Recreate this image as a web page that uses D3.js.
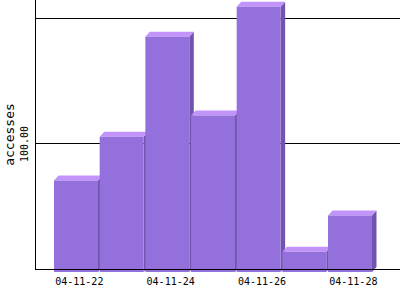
<!DOCTYPE html>
<html>
<head>
<meta charset="utf-8">
<script src="https://cdn.jsdelivr.net/npm/d3@7"></script>
<style>
  html, body { margin: 0; padding: 0; background: #fff; }
  svg { display: block; }
  text { font-family: "DejaVu Sans Mono", monospace; fill: #000; }
</style>
</head>
<body>
<svg id="chart" width="400" height="300"></svg>
<script>
// data
const days = ["04-11-22", "04-11-23", "04-11-24", "04-11-25", "04-11-26", "04-11-27", "04-11-28"];
const accesses = [74, 109, 189, 126, 213, 17, 46];
const gridValues = [100, 200];
const yTickLabels = [{ v: 100, label: "100.00" }];
const xTickLabels = ["04-11-22", "04-11-24", "04-11-26", "04-11-28"];

const svg = d3.select("#chart");

// plot frame
const plotLeft = 35, plotRight = 400, plotTop = 18, plotBase = 268;
const dx = 4.5, dy = 5;     // 3d depth
const drop = 4;             // front face sits a little below the floor

const x = d3.scaleBand()
    .domain(days)
    .range([54, 54 + 7 * 45.67])
    .padding(0);

const y = d3.scaleLinear()
    .domain([0, 200])
    .range([plotBase, plotTop]);

// grid lines behind bars
svg.append("g")
  .selectAll("line")
  .data(gridValues)
  .join("line")
    .attr("x1", plotLeft)
    .attr("x2", plotRight)
    .attr("y1", d => Math.round(y(d)) + 0.5)
    .attr("y2", d => Math.round(y(d)) + 0.5)
    .attr("stroke", "#000")
    .attr("stroke-width", 1);

// bars, left to right so each one hides the side of the previous
const bw = x.bandwidth() - 1.7;
const bars = svg.append("g")
  .selectAll("g")
  .data(days.map((d, i) => ({ day: d, value: accesses[i] })))
  .join("g");

bars.each(function(d) {
  const g = d3.select(this);
  const x0 = x(d.day);
  const ft = y(d.value) + dy;     // front top
  const fb = plotBase + drop;     // front bottom

  // side
  g.append("path")
    .attr("d", `M${x0 + bw},${ft} L${x0 + bw + dx},${ft - dy} L${x0 + bw + dx},${fb - dy} L${x0 + bw},${fb} Z`)
    .attr("fill", "#7354ad");
  // top
  g.append("path")
    .attr("d", `M${x0},${ft} L${x0 + dx},${ft - dy} L${x0 + bw + dx},${ft - dy} L${x0 + bw},${ft} Z`)
    .attr("fill", "#c294fa");
  // front
  g.append("rect")
    .attr("x", x0)
    .attr("y", ft)
    .attr("width", bw)
    .attr("height", fb - ft)
    .attr("fill", "#9370db");
});

// axes lines
svg.append("line")
  .attr("x1", plotLeft + 0.5).attr("x2", plotLeft + 0.5)
  .attr("y1", 0).attr("y2", plotBase + 1.5)
  .attr("stroke", "#000");

svg.append("line")
  .attr("x1", plotLeft).attr("x2", plotRight)
  .attr("y1", plotBase + 1.5).attr("y2", plotBase + 1.5)
  .attr("stroke", "#000");

// x labels
svg.append("g")
  .selectAll("text")
  .data(xTickLabels)
  .join("text")
    .attr("x", d => x(d) + x.bandwidth() / 2 + 2.5)
    .attr("y", 285)
    .attr("text-anchor", "middle")
    .attr("font-size", 10)
    .text(d => d);

// y tick labels, rotated
svg.append("g")
  .selectAll("text")
  .data(yTickLabels)
  .join("text")
    .attr("transform", d => `translate(27.5,${y(d.v) + 1}) rotate(-90)`)
    .attr("text-anchor", "middle")
    .attr("font-size", 10)
    .text(d => d.label);

// y title
svg.append("text")
  .attr("transform", "translate(14,134.5) rotate(-90)")
  .attr("text-anchor", "middle")
  .attr("font-size", 13)
  .text("accesses");
</script>
</body>
</html>
